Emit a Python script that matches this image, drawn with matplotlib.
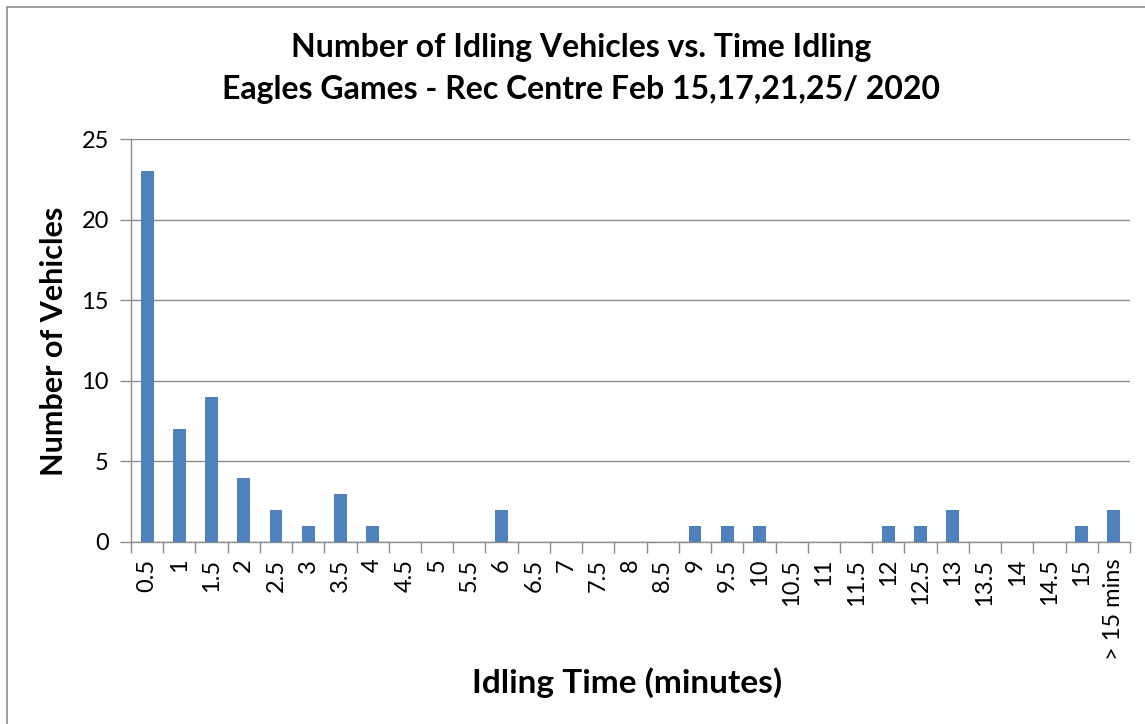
#Bar chart of idling vehicles vs. idling time (Excel style)

import numpy as np
import matplotlib.pyplot as plt
import matplotlib.patches as patches

categories = ["0.5", "1", "1.5", "2", "2.5", "3", "3.5", "4", "4.5", "5",
              "5.5", "6", "6.5", "7", "7.5", "8", "8.5", "9", "9.5", "10",
              "10.5", "11", "11.5", "12", "12.5", "13", "13.5", "14", "14.5",
              "15", "> 15 mins"]
vehicles = [23, 7, 9, 4, 2, 1, 3, 1, 0, 0,
            0, 2, 0, 0, 0, 0, 0, 1, 1, 1,
            0, 0, 0, 1, 1, 2, 0, 0, 0,
            1, 2]

plt.rcParams['font.family'] = ['Lato', 'DejaVu Sans']

fig = plt.figure(figsize=(11.45, 7.24), dpi=100)
ax = fig.add_axes([0.1144, 0.2514, 0.8725, 0.5566])

# outer chart border
fig.patches.append(patches.Rectangle((7/1145, -0.01), 1.0, (724-7)/724 + 0.01,
                                     transform=fig.transFigure, fill=False,
                                     edgecolor='#8c8c8c', linewidth=1.2))

x = np.arange(len(categories))
ax.bar(x, vehicles, width=0.4, color='#4F81BD', zorder=3)

ax.set_xlim(-0.5, len(categories) - 0.5)
ax.set_ylim(0, 25)
ax.set_yticks(range(0, 26, 5))
ax.yaxis.grid(True, color='#8c8c8c', linewidth=1)
ax.set_axisbelow(True)

ax.set_xticks(x)
ax.set_xticklabels(categories, rotation=90, fontsize=17)
ax.set_xticks(np.arange(-0.5, len(categories), 1), minor=True)
ax.tick_params(axis='x', which='major', length=0, pad=12)
ax.tick_params(axis='x', which='minor', length=8, color='#8c8c8c', width=1)
ax.tick_params(axis='y', length=8, color='#8c8c8c', width=1, labelsize=17, pad=8)

for s in ['top', 'right']:
    ax.spines[s].set_visible(False)
for s in ['left', 'bottom']:
    ax.spines[s].set_color('#8c8c8c')
    ax.spines[s].set_linewidth(1)

fig.text(0.5075, 0.935, "Number of Idling Vehicles vs. Time Idling",
         ha='center', va='center', fontsize=23, fontweight='bold')
fig.text(0.5075, 0.876, "Eagles Games - Rec Centre Feb 15,17,21,25/ 2020",
         ha='center', va='center', fontsize=23, fontweight='bold')
fig.text(0.047, 0.529, "Number of Vehicles", rotation=90,
         ha='center', va='center', fontsize=22, fontweight='bold')
fig.text(0.548, 0.0566, "Idling Time (minutes)",
         ha='center', va='center', fontsize=24, fontweight='bold')

fig.savefig("out.png", dpi=100)
